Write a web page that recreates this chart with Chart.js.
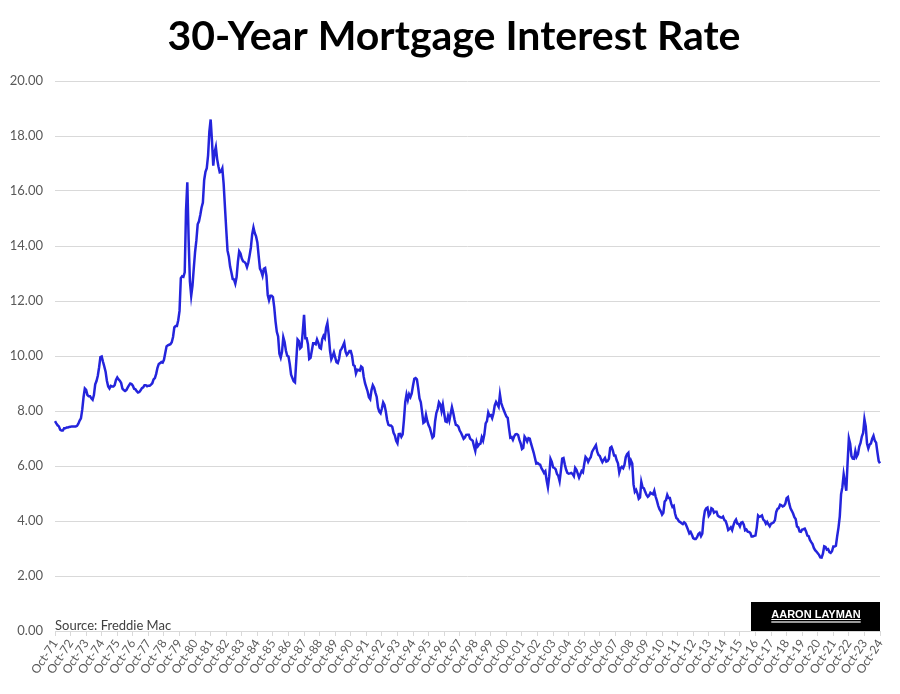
<!DOCTYPE html>
<html>
<head>
<meta charset="utf-8">
<title>30-Year Mortgage Interest Rate</title>
<script src="https://cdn.jsdelivr.net/npm/chart.js@4.4.1/dist/chart.umd.min.js"></script>
<style>
  html, body { margin: 0; padding: 0; background: #fff; }
  #wrap { width: 900px; height: 694px; }
</style>
</head>
<body>
<div id="wrap"><canvas id="rate-chart"></canvas></div>
<script>
// 30-year fixed mortgage rate, monthly readings, Oct 1971 -> Oct 2024
var startYear = 1971;
var startMonth = 9; // October (0 = January)
var monthNames = ['Jan', 'Feb', 'Mar', 'Apr', 'May', 'Jun', 'Jul', 'Aug', 'Sep', 'Oct', 'Nov', 'Dec'];

var rates = [
  7.63, 7.55, 7.48,                                                          // 1971 (Oct-Dec)
  7.44, 7.32, 7.29, 7.29, 7.37, 7.37, 7.40, 7.40, 7.42, 7.43, 7.44, 7.44,    // 1972
  7.44, 7.44, 7.46, 7.54, 7.65, 7.73, 8.05, 8.50, 8.82, 8.77, 8.58, 8.54,    // 1973
  8.54, 8.46, 8.41, 8.58, 8.97, 9.09, 9.28, 9.59, 9.96, 9.98, 9.79, 9.62,    // 1974
  9.43, 9.10, 8.89, 8.82, 8.91, 8.89, 8.89, 8.94, 9.13, 9.22, 9.15, 9.10,    // 1975
  9.02, 8.81, 8.76, 8.73, 8.76, 8.85, 8.93, 9.00, 8.98, 8.92, 8.81, 8.79,    // 1976
  8.72, 8.67, 8.69, 8.75, 8.83, 8.86, 8.94, 8.94, 8.90, 8.92, 8.92, 8.96,    // 1977
  9.01, 9.15, 9.20, 9.35, 9.57, 9.71, 9.74, 9.78, 9.76, 9.86, 10.11, 10.35,  // 1978
  10.39, 10.41, 10.43, 10.50, 10.69, 11.04, 11.09, 11.09, 11.30, 11.64, 12.83, 12.90, // 1979
  12.88, 13.04, 15.28, 16.32, 14.26, 12.71, 12.19, 12.56, 13.20, 13.79, 14.21, 14.79, // 1980
  14.90, 15.13, 15.40, 15.58, 16.40, 16.70, 16.83, 17.29, 18.16, 18.60, 17.83, 16.92, // 1981
  17.40, 17.60, 17.16, 16.89, 16.68, 16.70, 16.82, 16.27, 15.43, 14.61, 13.83, 13.62, // 1982
  13.25, 13.04, 12.80, 12.78, 12.63, 12.87, 13.42, 13.81, 13.73, 13.54, 13.44, 13.42, // 1983
  13.37, 13.23, 13.39, 13.65, 13.94, 14.42, 14.67, 14.47, 14.35, 14.13, 13.64, 13.18, // 1984
  13.08, 12.92, 13.17, 13.20, 12.91, 12.22, 12.03, 12.19, 12.19, 12.14, 11.78, 11.26, // 1985
  10.88, 10.71, 10.08, 9.94, 10.15, 10.68, 10.51, 10.20, 10.01, 9.98, 9.70, 9.32,     // 1986
  9.20, 9.08, 9.04, 9.83, 10.60, 10.54, 10.28, 10.33, 10.89, 11.50, 10.65, 10.65,     // 1987
  10.43, 9.89, 9.93, 10.20, 10.46, 10.46, 10.43, 10.60, 10.48, 10.30, 10.27, 10.61,   // 1988
  10.73, 10.65, 11.03, 11.20, 10.77, 10.20, 9.88, 9.99, 10.13, 9.95, 9.77, 9.74,      // 1989
  9.90, 10.20, 10.27, 10.37, 10.48, 10.16, 10.04, 10.10, 10.18, 10.18, 10.01, 9.67,   // 1990
  9.64, 9.37, 9.50, 9.49, 9.47, 9.62, 9.58, 9.24, 9.01, 8.86, 8.71, 8.50,    // 1991
  8.43, 8.76, 8.94, 8.85, 8.67, 8.51, 8.13, 7.98, 7.92, 8.09, 8.31, 8.22,    // 1992
  7.99, 7.68, 7.50, 7.47, 7.47, 7.42, 7.21, 7.11, 6.92, 6.83, 7.16, 7.17,    // 1993
  7.06, 7.15, 7.68, 8.32, 8.60, 8.40, 8.61, 8.51, 8.64, 8.93, 9.17, 9.20,    // 1994
  9.15, 8.83, 8.46, 8.32, 7.96, 7.57, 7.61, 7.86, 7.64, 7.48, 7.38, 7.20,    // 1995
  7.03, 7.08, 7.62, 7.93, 8.07, 8.32, 8.25, 8.00, 8.23, 7.92, 7.62, 7.60,    // 1996
  7.82, 7.65, 7.90, 8.14, 7.94, 7.69, 7.50, 7.48, 7.43, 7.29, 7.21, 7.10,    // 1997
  6.99, 7.04, 7.13, 7.14, 7.14, 7.00, 6.95, 6.92, 6.72, 6.55, 6.87, 6.72,    // 1998
  6.79, 6.81, 7.04, 6.92, 7.15, 7.55, 7.63, 7.94, 7.82, 7.85, 7.74, 7.91,    // 1999
  8.21, 8.33, 8.24, 8.15, 8.60, 8.29, 8.15, 8.03, 7.91, 7.80, 7.75, 7.38,    // 2000
  7.03, 7.05, 6.95, 7.08, 7.15, 7.16, 7.13, 6.95, 6.82, 6.62, 6.66, 7.07,    // 2001
  7.00, 6.89, 7.01, 6.99, 6.81, 6.65, 6.49, 6.29, 6.09, 6.11, 6.07, 6.05,    // 2002
  5.92, 5.84, 5.75, 5.81, 5.48, 5.23, 5.63, 6.26, 6.15, 5.95, 5.93, 5.88,    // 2003
  5.71, 5.64, 5.45, 5.83, 6.27, 6.29, 6.06, 5.87, 5.75, 5.72, 5.73, 5.75,    // 2004
  5.71, 5.63, 5.93, 5.86, 5.72, 5.58, 5.70, 5.82, 5.77, 6.07, 6.33, 6.27,    // 2005
  6.15, 6.25, 6.32, 6.51, 6.60, 6.68, 6.76, 6.52, 6.40, 6.36, 6.24, 6.14,    // 2006
  6.22, 6.29, 6.16, 6.18, 6.26, 6.66, 6.70, 6.57, 6.38, 6.38, 6.21, 6.10,    // 2007
  5.76, 5.92, 5.97, 5.92, 6.04, 6.32, 6.43, 6.48, 6.04, 6.20, 6.09, 5.33,    // 2008
  5.06, 5.13, 5.00, 4.81, 4.86, 5.42, 5.22, 5.19, 5.06, 4.95, 4.88, 4.93,    // 2009
  5.03, 4.99, 4.97, 5.10, 4.89, 4.74, 4.56, 4.43, 4.35, 4.23, 4.30, 4.71,    // 2010
  4.76, 4.95, 4.84, 4.84, 4.64, 4.51, 4.55, 4.27, 4.11, 4.07, 3.99, 3.96,    // 2011
  3.92, 3.89, 3.95, 3.91, 3.80, 3.68, 3.55, 3.60, 3.50, 3.38, 3.35, 3.35,    // 2012
  3.41, 3.53, 3.57, 3.45, 3.54, 4.07, 4.37, 4.46, 4.49, 4.19, 4.26, 4.46,    // 2013
  4.43, 4.30, 4.34, 4.34, 4.19, 4.16, 4.13, 4.12, 4.16, 4.04, 4.00, 3.86,    // 2014
  3.67, 3.71, 3.77, 3.67, 3.84, 3.98, 4.05, 3.91, 3.89, 3.80, 3.94, 3.96,    // 2015
  3.87, 3.66, 3.69, 3.61, 3.60, 3.57, 3.44, 3.44, 3.46, 3.47, 3.77, 4.20,    // 2016
  4.15, 4.17, 4.20, 4.05, 4.01, 3.90, 3.97, 3.88, 3.81, 3.90, 3.92, 3.95,    // 2017
  4.03, 4.33, 4.44, 4.47, 4.59, 4.57, 4.53, 4.55, 4.63, 4.83, 4.87, 4.64,    // 2018
  4.46, 4.37, 4.27, 4.14, 4.07, 3.80, 3.77, 3.62, 3.61, 3.69, 3.70, 3.72,    // 2019
  3.62, 3.47, 3.45, 3.31, 3.23, 3.16, 3.02, 2.94, 2.89, 2.83, 2.77, 2.68,    // 2020
  2.67, 2.81, 3.08, 3.06, 2.96, 2.98, 2.87, 2.84, 2.90, 3.07, 3.07, 3.10,    // 2021
  3.45, 3.76, 4.17, 4.98, 5.23, 5.70, 5.41, 5.10, 6.11, 7.00, 6.81, 6.36,    // 2022
  6.27, 6.26, 6.54, 6.34, 6.43, 6.71, 6.84, 7.07, 7.20, 7.70, 7.44, 6.82,    // 2023
  6.64, 6.78, 6.82, 6.99, 7.10, 6.92, 6.85, 6.50, 6.18, 6.10                 // 2024 (Jan-Oct)
];

var yTicks = [0, 2, 4, 6, 8, 10, 12, 14, 16, 18, 20];

// month labels, e.g. "Oct-71"
var labels = [];
for (var i = 0; i < rates.length; i++) {
  var m = (startMonth + i) % 12;
  var yr = startYear + Math.floor((startMonth + i) / 12);
  labels.push(monthNames[m] + '-' + String(yr).slice(2));
}

// title, source note and logo box
var extras = {
  id: 'extras',
  afterDraw: function (chart) {
    var ctx = chart.ctx;
    var a = chart.chartArea;
    ctx.save();
    ctx.fillStyle = '#000';
    ctx.font = 'bold 41px Lato';
    ctx.textAlign = 'center';
    ctx.textBaseline = 'alphabetic';
    ctx.fillText('30-Year Mortgage Interest Rate', 454, 50);

    ctx.fillStyle = '#404040';
    ctx.font = '13px Lato';
    ctx.textAlign = 'left';
    ctx.fillText('Source: Freddie Mac', a.left, a.bottom - 1);

    ctx.fillStyle = '#000';
    ctx.fillRect(a.right - 129, a.bottom - 29, 129, 29);
    ctx.fillStyle = '#fff';
    ctx.font = 'bold 11px "Liberation Sans"';
    ctx.textAlign = 'center';
    ctx.fillText('AARON LAYMAN', a.right - 64, a.bottom - 13);
    var w = ctx.measureText('AARON LAYMAN').width;
    ctx.fillRect(a.right - 64 - w / 2, a.bottom - 12, w, 1);
    ctx.fillStyle = '#9a9a9a';
    ctx.fillRect(a.right - 64 - w / 2, a.bottom - 10, w, 2);
    ctx.restore();
  }
};

var ctx = document.getElementById('rate-chart').getContext('2d');
var rateChart = new Chart(ctx, {
  type: 'line',
  data: {
    labels: labels,
    datasets: [{
      label: '30-Year Mortgage Rate',
      data: rates,
      borderColor: '#2424DC',
      borderWidth: 2.5,
      pointRadius: 0,
      fill: false,
      tension: 0
    }]
  },
  options: {
    responsive: true,
    maintainAspectRatio: false,
    animation: false,
    layout: { padding: { left: 0, right: 20, top: 81, bottom: 0 } },
    plugins: {
      legend: { display: false },
      tooltip: { enabled: false },
      title: { display: false }
    },
    scales: {
      x: {
        afterBuildTicks: function (scale) {
          // one label per year, at October
          scale.ticks = scale.ticks.filter(function (t) { return t.value % 12 === 0; });
        },
        afterFit: function (scale) { scale.height = 63; },
        ticks: {
          autoSkip: false,
          minRotation: 57,
          maxRotation: 57,
          padding: 1,
          color: '#595959',
          font: { family: 'Lato', size: 12 }
        },
        grid: { drawOnChartArea: false, color: '#d9d9d9', tickLength: 5 },
        border: { color: '#d9d9d9' }
      },
      y: {
        min: 0,
        max: 20,
        afterBuildTicks: function (scale) {
          scale.ticks = yTicks.map(function (v) { return { value: v }; });
        },
        afterFit: function (scale) { scale.width = 55; },
        ticks: {
          padding: 12,
          color: '#595959',
          font: { family: 'Lato', size: 13 },
          callback: function (v) { return Number(v).toFixed(2); }
        },
        grid: { color: '#d9d9d9', drawTicks: false },
        border: { display: false }
      }
    }
  },
  plugins: [extras]
});
</script>
</body>
</html>
